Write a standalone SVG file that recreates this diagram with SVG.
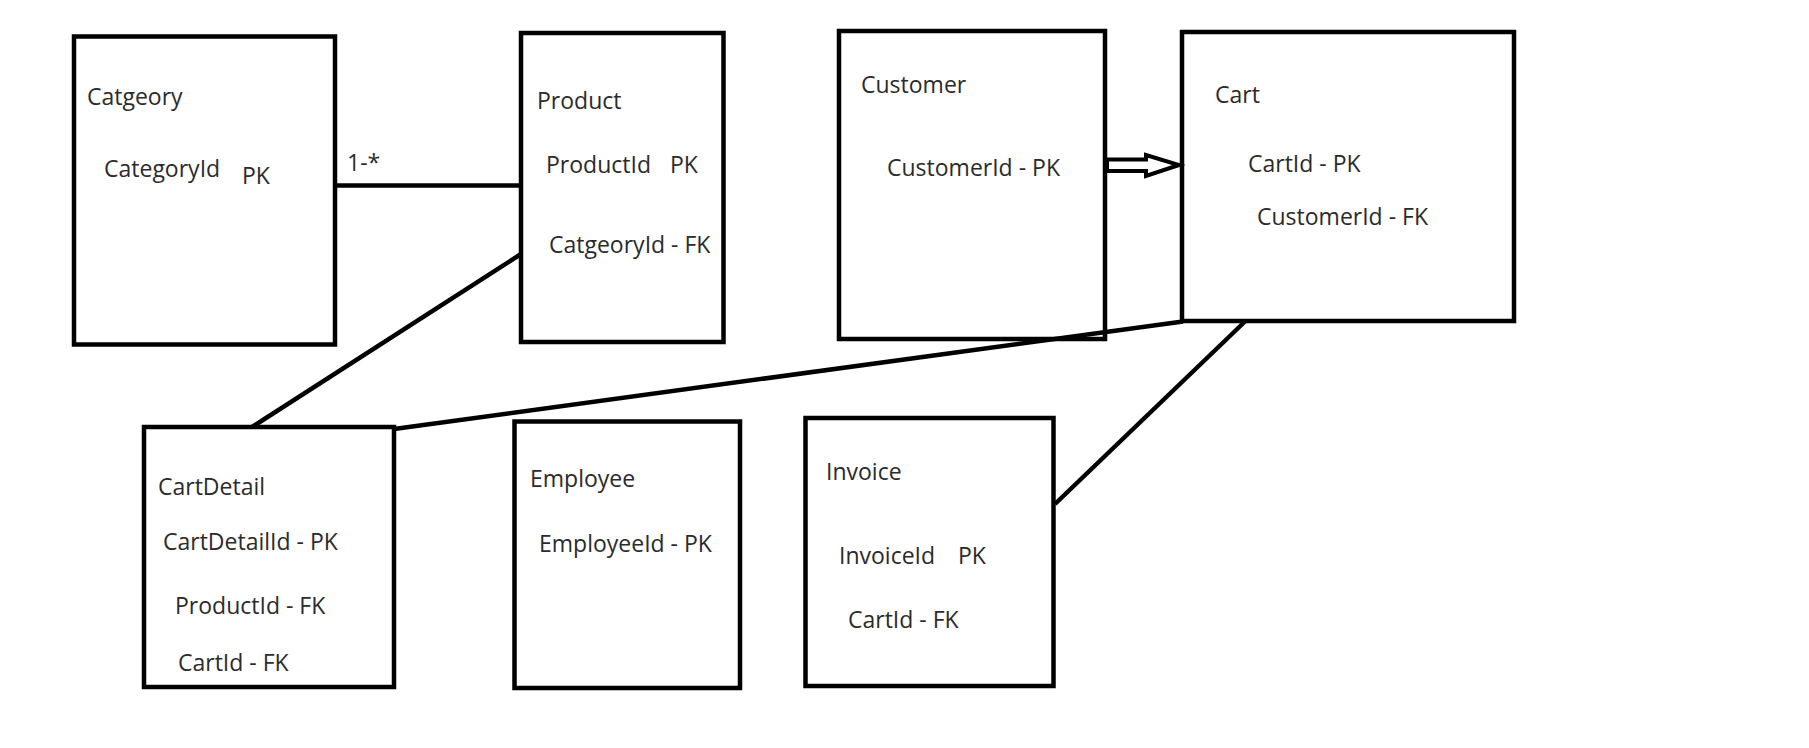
<svg xmlns="http://www.w3.org/2000/svg" width="1809" height="748" viewBox="0 0 1809 748">
  <style>
    .box { fill: #ffffff; stroke: #000000; stroke-width: 4.5; }
    .conn { fill: none; stroke: #000000; stroke-width: 4.5; stroke-linecap: butt; }
    .arrow { fill: #ffffff; stroke: #000000; stroke-width: 4; stroke-linejoin: miter; }
    text { font-family: "Open Sans", "Noto Sans", "Liberation Sans", sans-serif; font-size: 23px; fill: #2b2b2b; }
  </style>
  <rect width="1809" height="748" fill="#ffffff"/>

  <g id="category">
    <rect class="box" x="74" y="36.5" width="261" height="308"/>
    <text x="87" y="105">Catgeory</text>
    <text x="104" y="177">CategoryId</text>
    <text x="242" y="184">PK</text>
  </g>

  <g id="product">
    <rect class="box" x="521" y="33" width="202.5" height="309"/>
    <text x="537" y="109">Product</text>
    <text x="546" y="173">ProductId</text>
    <text x="670" y="173">PK</text>
    <text x="549" y="253">CatgeoryId - FK</text>
  </g>

  <g id="customer">
    <rect class="box" x="839" y="31" width="266" height="308"/>
    <text x="861" y="93">Customer</text>
    <text x="887" y="176">CustomerId - PK</text>
  </g>

  <g id="cart">
    <rect class="box" x="1182" y="32" width="332" height="289"/>
    <text x="1215" y="103">Cart</text>
    <text x="1248" y="172">CartId - PK</text>
    <text x="1257" y="225">CustomerId - FK</text>
  </g>

  <g id="cartdetail">
    <rect class="box" x="144" y="427" width="250" height="260"/>
    <text x="158" y="495">CartDetail</text>
    <text x="163" y="550">CartDetailId - PK</text>
    <text x="175" y="614">ProductId - FK</text>
    <text x="178" y="671">CartId - FK</text>
  </g>

  <g id="employee">
    <rect class="box" x="514.5" y="421.5" width="225.5" height="266.5"/>
    <text x="530" y="487">Employee</text>
    <text x="539" y="552">EmployeeId - PK</text>
  </g>

  <g id="invoice">
    <rect class="box" x="805.5" y="418" width="248" height="268"/>
    <text x="826" y="480">Invoice</text>
    <text x="839" y="564">InvoiceId</text>
    <text x="958" y="564">PK</text>
    <text x="848" y="628">CartId - FK</text>
  </g>

  <g id="connectors">
    <line class="conn" x1="335" y1="185.5" x2="523" y2="185.5"/>
    <line class="conn" x1="521" y1="254" x2="252" y2="427"/>
    <line class="conn" x1="1183" y1="321.5" x2="394" y2="429"/>
    <line class="conn" x1="1245" y1="321.5" x2="1055" y2="504"/>
    <polygon class="arrow" points="1107,159.5 1146,159.5 1146,155 1179,165 1146,176 1146,171 1107,171"/>
    <text x="347" y="171">1-*</text>
  </g>
</svg>
